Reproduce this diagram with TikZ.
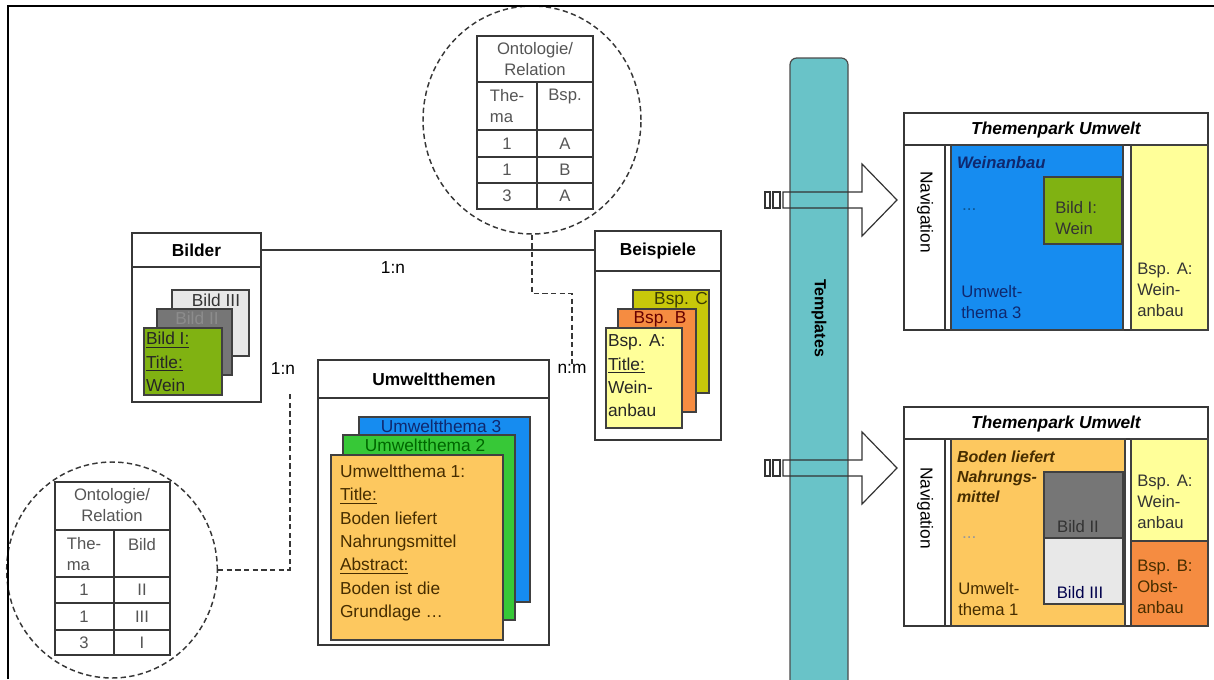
\documentclass[tikz,border=0pt]{standalone}
\usepackage{fontspec}
\setmainfont{Liberation Sans}
\usetikzlibrary{fit,calc,shapes.geometric}
\definecolor{bildgreen}{RGB}{128,178,18}
\definecolor{bildgray}{RGB}{118,118,118}
\definecolor{bildlight}{RGB}{232,232,232}
\definecolor{uwblue}{RGB}{22,140,240}
\definecolor{uwgreen}{RGB}{55,200,55}
\definecolor{uworange}{RGB}{253,200,95}
\definecolor{bspc}{RGB}{200,200,10}
\definecolor{bspb}{RGB}{245,140,65}
\definecolor{bspa}{RGB}{255,255,153}
\definecolor{tealbar}{RGB}{105,195,200}
\definecolor{linegray}{RGB}{55,55,55}
\definecolor{txtgray}{RGB}{85,85,85}
\definecolor{navytxt}{RGB}{15,40,110}
\definecolor{browntxt}{RGB}{70,45,0}
\newcommand\rectnode[6]{\node[#6, fit={(#2,#3) (#4,#5)}] (#1) {};}
\tikzset{
 box/.style={draw=linegray, line width=1.1pt, fill=white, inner sep=0pt, outer sep=0pt},
 card/.style={draw=black!75, line width=0.9pt, inner sep=0pt, outer sep=0pt},
 txt/.style={inner sep=0pt, outer sep=0pt, align=left},
 ttl/.style={inner sep=0pt, font=\fontsize{13}{17}\selectfont\bfseries},
 tpttl/.style={inner sep=0pt, font=\fontsize{13}{17}\selectfont\bfseries\itshape},
 tabbox/.style={draw=linegray, line width=1pt, fill=white, inner sep=0pt, outer sep=0pt},
 tabline/.style={draw=linegray, line width=1pt},
 tabtxt/.style={inner sep=0pt, text=txtgray, align=left, font=\fontsize{12.5}{15.5}\selectfont},
 circ/.style={draw=linegray, ellipse, line width=1.1pt, dash pattern=on 4pt off 2.5pt, inner sep=0pt},
 dline/.style={draw=linegray, line width=1.1pt, dash pattern=on 4pt off 2.5pt},
 rel/.style={draw=linegray, line width=1.1pt},
 blockarrow/.style={draw=black!80, line width=0.9pt},
 tptxt/.style={inner sep=0pt, align=left, font=\fontsize{12.5}{16}\selectfont},
}
\begin{document}
\begin{tikzpicture}[x=0.75pt, y=-0.75pt, font=\fontsize{13}{17.5}\selectfont]
\useasboundingbox (0,0) rectangle (1214,679);

% ---------- relation circles ----------
\node[circ, minimum width=163.5pt, minimum height=171pt] (circ1) at (532,120) {};
\node[circ, minimum width=158pt, minimum height=162pt] (circ2) at (112,570) {};

% table 1
\rectnode{tabA}{477}{36}{593}{209}{tabbox}
\draw[tabline] (477,82) -- (593,82) (477,130) -- (593,130) (477,157) -- (593,157) (477,183) -- (593,183) (537,82) -- (537,209);
\node[tabtxt, align=center] (ta0) at (535,59) {Ontologie/\\Relation};
\node[tabtxt] (ta1) at (507,106) {The-\\ma};
\node[tabtxt] (ta2) at (565,96) {Bsp.};
\node[tabtxt] (ta3) at (507,144) {1};
\node[tabtxt] (ta4) at (565,144) {A};
\node[tabtxt] (ta5) at (507,170) {1};
\node[tabtxt] (ta6) at (565,170) {B};
\node[tabtxt] (ta7) at (507,196) {3};
\node[tabtxt] (ta8) at (565,196) {A};

% table 2
\rectnode{tabB}{55}{482}{170}{655}{tabbox}
\draw[tabline] (55,530) -- (170,530) (55,577) -- (170,577) (55,603) -- (170,603) (55,630) -- (170,630) (114,530) -- (114,655);
\node[tabtxt, align=center] (tb0) at (112,505) {Ontologie/\\Relation};
\node[tabtxt] (tb1) at (84,554) {The-\\ma};
\node[tabtxt] (tb2) at (142,545) {Bild};
\node[tabtxt] (tb3) at (84,590) {1};
\node[tabtxt] (tb4) at (142,590) {II};
\node[tabtxt] (tb5) at (84,617) {1};
\node[tabtxt] (tb6) at (142,617) {III};
\node[tabtxt] (tb7) at (84,643) {3};
\node[tabtxt] (tb8) at (142,643) {I};

% ---------- Bilder ----------
\rectnode{bilder}{132}{267}{261}{402}{box}
\rectnode{bilderhead}{132}{233}{261}{267}{box}
\node[ttl] (bildertitle) at (196.5,250) {Bilder};
\rectnode{bild3}{172}{290}{249}{356}{card, fill=bildlight}
\node[txt, text=black!80] (bild3t) at (216,300) {Bild III};
\rectnode{bild2}{157}{309}{232}{375}{card, fill=bildgray}
\node[txt, text=black!45] (bild2t) at (197,318) {Bild II};
\rectnode{bild1}{144}{328}{222}{395}{card, fill=bildgreen}
\node[txt, anchor=west, text=black!85] (bild1t) at (146,362) {\underline{Bild I:}\\\underline{Title:}\\Wein};

% ---------- Beispiele ----------
\rectnode{beisp}{595}{271}{721}{440}{box}
\rectnode{beisphead}{595}{231}{721}{271}{box}
\node[ttl] (beisptitle) at (658,251) {Beispiele};
\rectnode{bspC}{633}{290}{709}{393}{card, fill=bspc}
\node[txt, text=black!70!bspc] (bspCt) at (681,300) {Bsp. C};
\rectnode{bspB}{618}{309}{696}{412}{card, fill=bspb}
\node[txt, text=black!60!red] (bspBt) at (660,319) {Bsp. B};
\rectnode{bspA}{606}{328}{682}{428}{card, fill=bspa}
\node[txt, anchor=west, text=black!85] (bspAt) at (608,376) {Bsp. A:\\\underline{Title:}\\Wein-\\anbau};

% ---------- Umweltthemen ----------
\rectnode{umw}{318}{398}{549}{645}{box}
\rectnode{umwhead}{318}{360}{549}{398}{box}
\node[ttl] (umwtitle) at (434,379) {Umweltthemen};
\rectnode{uw3}{359}{417}{530}{602}{card, fill=uwblue}
\node[txt, text=navytxt] (uw3t) at (441,426) {Umweltthema 3};
\rectnode{uw2}{343}{435}{515}{620}{card, fill=uwgreen}
\node[txt, text=black!60!green] (uw2t) at (425,445) {Umweltthema 2};
\rectnode{uw1}{331}{455}{503}{640}{card, fill=uworange}
\node[txt, anchor=west, text=browntxt] (uw1t) at (340,543) {Umweltthema 1:\\\underline{Title:}\\Boden liefert\\Nahrungsmittel\\\underline{Abstract:}\\Boden ist die\\Grundlage \dots};

% ---------- relations ----------
\draw[rel] (bilderhead.east) -- (bilderhead.east -| beisphead.west);
\draw[rel] ($(umwhead.west)+(0,4)$ -| bilder.east) -- ($(umwhead.west)+(0,4)$);
\draw[rel] ($(umwhead.east)+(0,4)$) -- ($(umwhead.east)+(0,4)$ -| beisp.west);
\node[txt] (lab1) at (393,268) {1:n};
\node[txt] (lab2) at (283,369) {1:n};
\node[txt] (lab3) at (572,369) {n:m};
\draw[dline] (circ1.south) -- ++(0,59) -| (lab3.north);
\coordinate (d2) at (290,391);
\draw[dline] (circ2.east) -| (d2);

% ---------- Templates ----------
\rectnode{templ}{790}{58}{848}{700}{draw=black!70, fill=tealbar, line width=0.9pt, rounded corners=5pt, inner sep=0pt}
\node[inner sep=0pt, rotate=-90, font=\fontsize{12}{14}\selectfont\bfseries] (templt) at (819,318) {Templates};

% block arrows
\foreach \yy/\nm in {200/arrA, 468/arrB}{
  \draw[blockarrow] (765,\yy-8) rectangle (770,\yy+8);
  \draw[blockarrow] (773,\yy-8) rectangle (780,\yy+8);
  \draw[blockarrow] (783,\yy-8) -- (862,\yy-8) -- (862,\yy-36) -- (897,\yy) -- (862,\yy+36) -- (862,\yy+8) -- (783,\yy+8) -- cycle;
}

% ---------- Themenpark 1 ----------
\rectnode{tpA}{904}{113}{1208}{330}{box}
\rectnode{tpAhead}{904}{113}{1208}{145}{box}
\node[tpttl] (tpAtitle) at (1056,130) {Themenpark Umwelt};
\rectnode{tpAnav}{904}{145}{945}{330}{box}
\node[inner sep=0pt, rotate=-90] (tpAnavt) at (925,212) {Navigation};
\rectnode{tpAmain}{951}{145}{1123}{330}{card, fill=uwblue}
\node[txt, anchor=west, text=navytxt, font=\fontsize{12.5}{16}\selectfont\bfseries\itshape] (tpAmt) at (957,163) {Weinanbau};
\node[txt, anchor=west, text=black!40!uwblue] (tpAdots) at (962,210) {...};
\node[tptxt, anchor=west, text=navytxt] (tpAum) at (961,302) {Umwelt-\\thema 3};
\rectnode{tpAbild}{1044}{177}{1122}{244}{card, fill=bildgreen}
\node[tptxt, anchor=west, text=black!80] (tpAbt) at (1055,218) {Bild I:\\Wein};
\rectnode{tpAside}{1131}{145}{1208}{330}{card, fill=bspa}
\node[tptxt, anchor=west, text=black!80] (tpAst) at (1137,290) {Bsp. A:\\Wein-\\anbau};

% ---------- Themenpark 2 ----------
\rectnode{tpB}{904}{407}{1208}{626}{box}
\rectnode{tpBhead}{904}{407}{1208}{439}{box}
\node[tpttl] (tpBtitle) at (1056,424) {Themenpark Umwelt};
\rectnode{tpBnav}{904}{439}{945}{626}{box}
\node[inner sep=0pt, rotate=-90] (tpBnavt) at (925,508) {Navigation};
\rectnode{tpBmain}{951}{439}{1125}{626}{card, fill=uworange}
\node[txt, anchor=west, text=browntxt, font=\fontsize{12}{15}\selectfont\bfseries\itshape] (tpBmt) at (957,477) {Boden liefert\\Nahrungs-\\mittel};
\node[txt, anchor=west, text=black!40] (tpBdots) at (962,538) {...};
\node[tptxt, anchor=west, text=browntxt] (tpBum) at (958,599) {Umwelt-\\thema 1};
\rectnode{tpBbild2}{1044}{472}{1123}{538}{card, fill=bildgray}
\node[tptxt, text=black!80] (tpBb2t) at (1078,527) {Bild II};
\rectnode{tpBbild3}{1044}{538}{1123}{604}{card, fill=bildlight}
\node[tptxt, text=black!70!blue] (tpBb3t) at (1080,593) {Bild III};
\rectnode{tpBsideA}{1131}{439}{1208}{541}{card, fill=bspa}
\node[tptxt, anchor=west, text=black!80] (tpBsat) at (1137,502) {Bsp. A:\\Wein-\\anbau};
\rectnode{tpBsideB}{1131}{541}{1208}{626}{card, fill=bspb}
\node[tptxt, anchor=west, text=browntxt] (tpBsbt) at (1137,587) {Bsp. B:\\Obst-\\anbau};

% ---------- frame ----------
\draw[line width=2pt] (8,679) -- (8,6) -- (1214,6);
\end{tikzpicture}
\end{document}
